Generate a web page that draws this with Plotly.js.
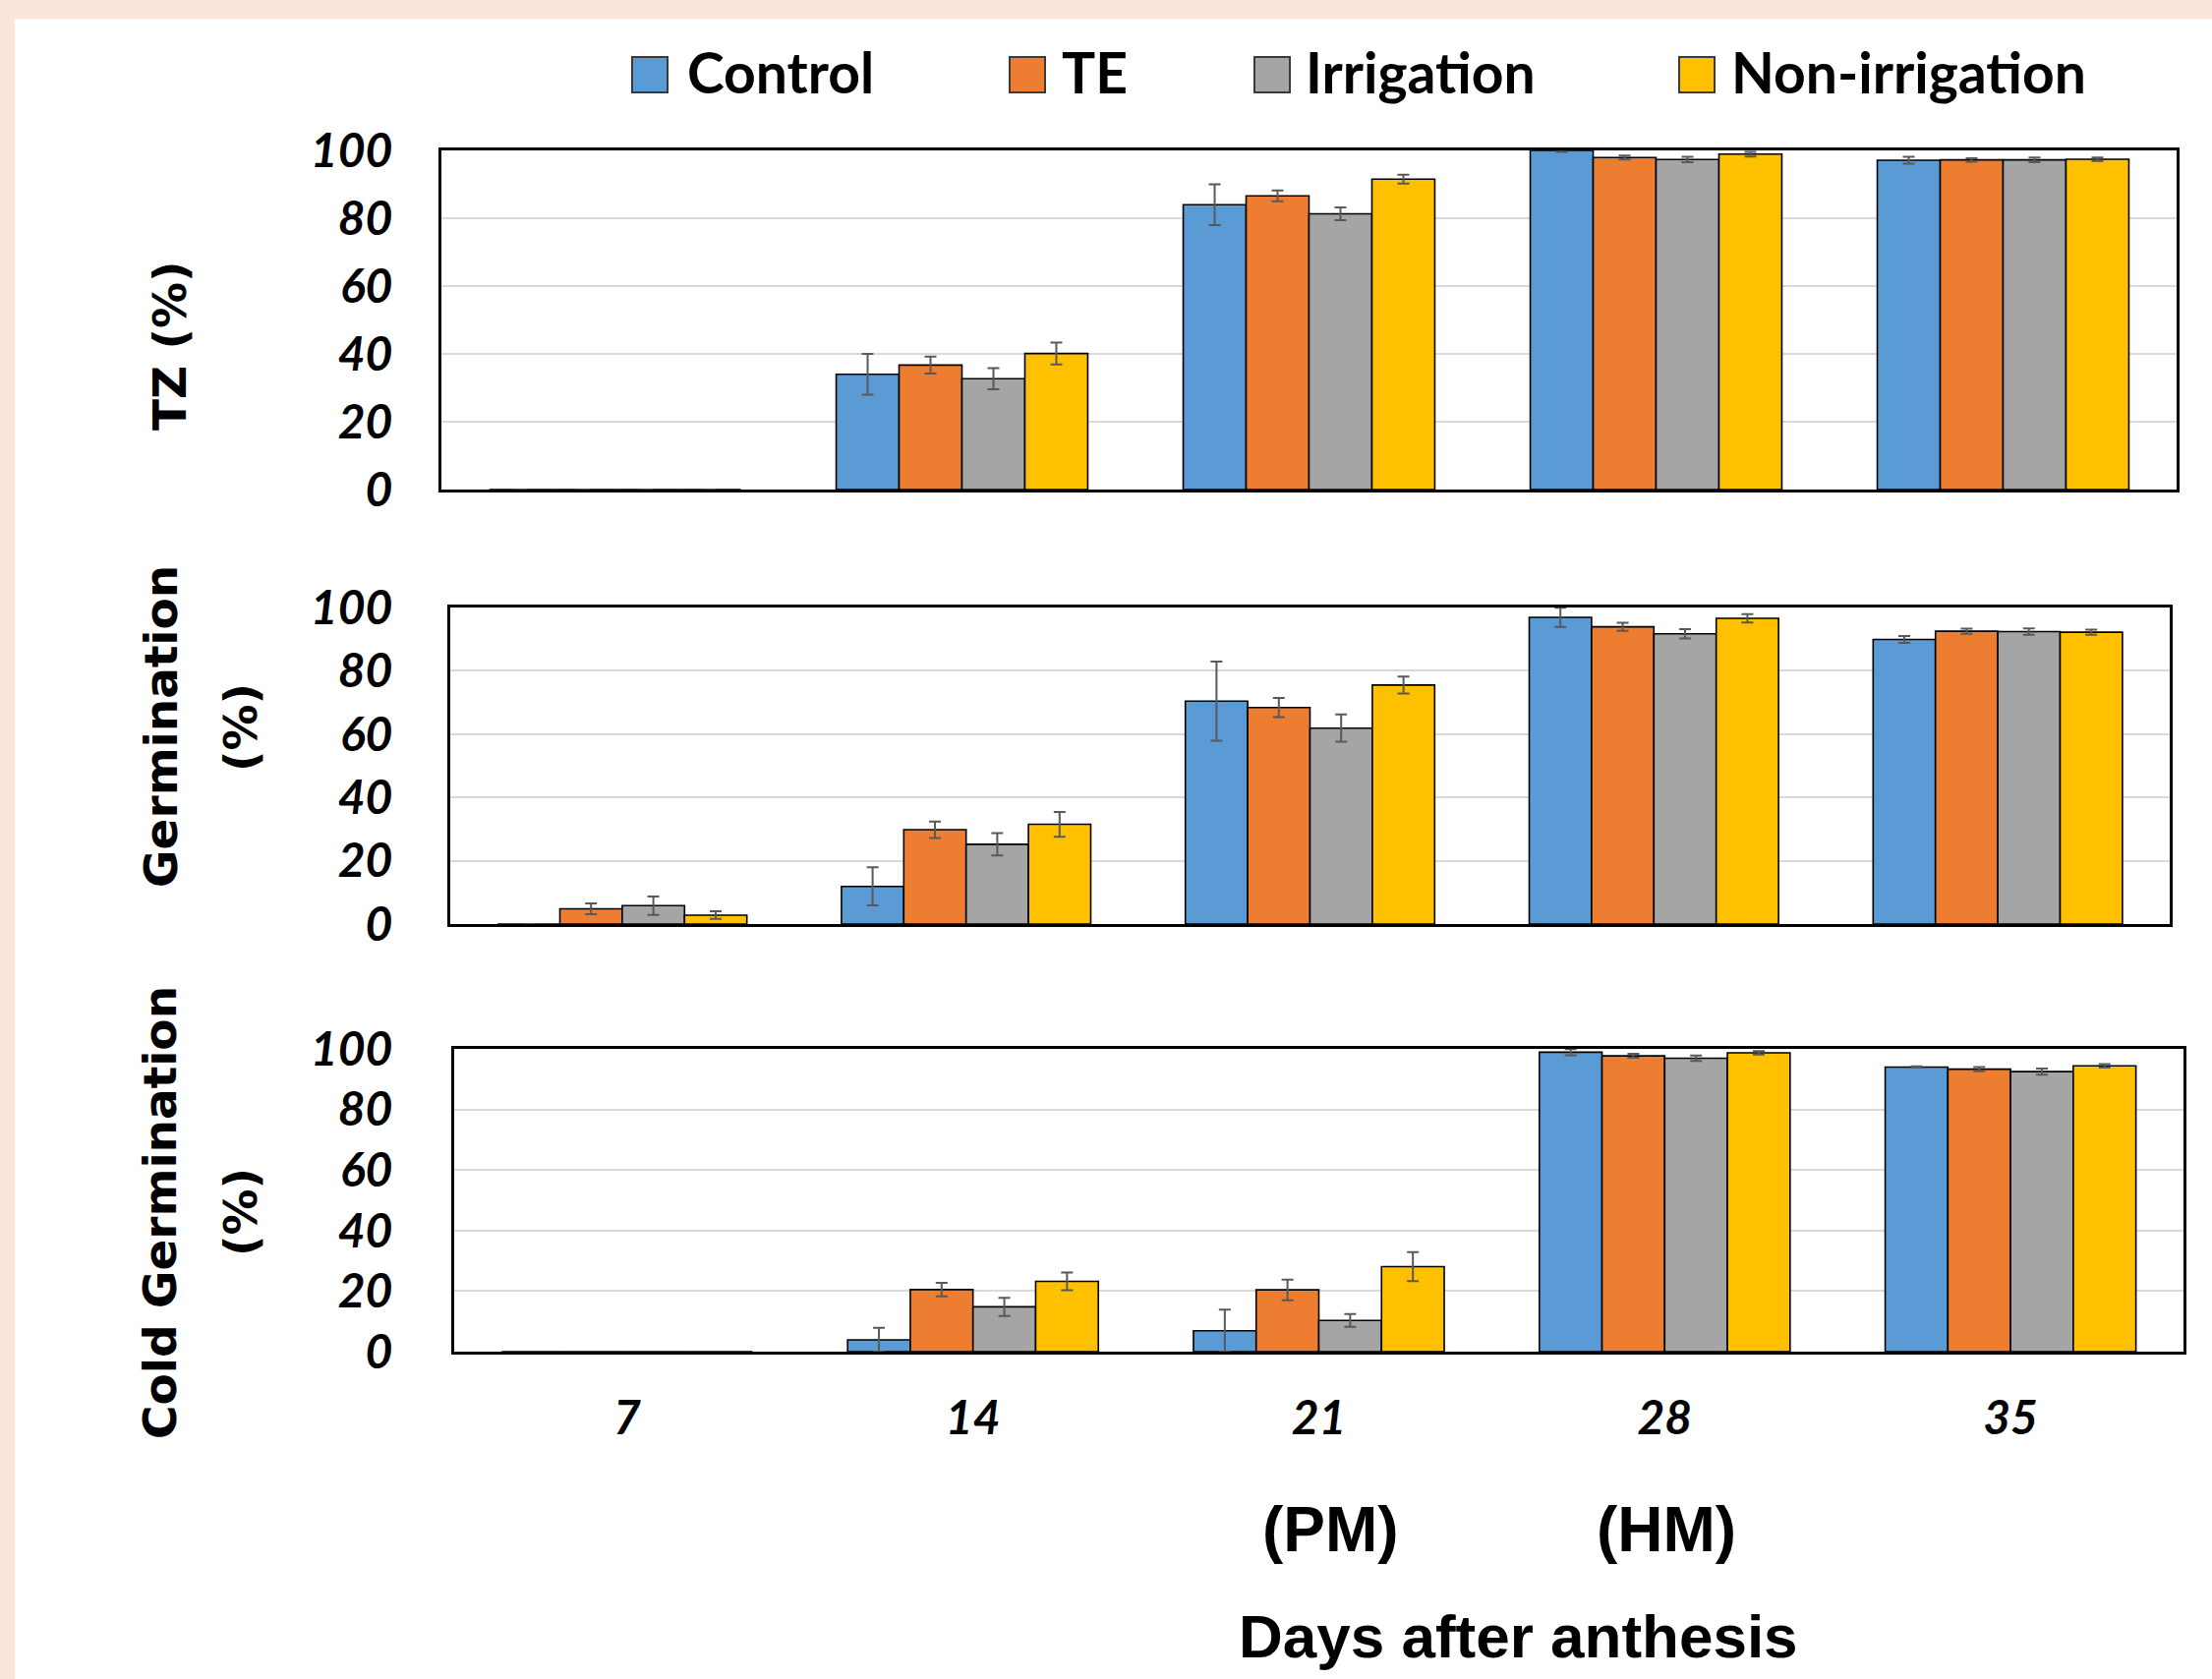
<!DOCTYPE html>
<html>
<head>
<meta charset="utf-8">
<script src="https://cdn.plot.ly/plotly-3.0.1.min.js"></script>
<style>
  html, body { margin: 0; padding: 0; background: #ffffff; }
  #chart { width: 2250px; height: 1708px; }
</style>
</head>
<body>
<div id="chart"></div>
<script>
// ---------------- DATA ----------------
const days = ['7', '14', '21', '28', '35'];
const seriesNames = ['Control', 'TE', 'Irrigation', 'Non-irrigation'];
const seriesColors = ['#5B9BD5', '#ED7D31', '#A5A5A5', '#FFC000'];

// TZ (%)
const tzControl = [0, 34.0, 84.0, 100.0, 97.1];
const tzTE = [0, 36.7, 86.6, 97.9, 97.2];
const tzIrrigation = [0, 32.7, 81.3, 97.3, 97.2];
const tzNonIrrigation = [0, 40.1, 91.5, 98.9, 97.4];
const tzControlErr = [0, 6.0, 6.0, 0.4, 1.0];
const tzTEErr = [0, 2.5, 1.6, 0.6, 0.5];
const tzIrrigationErr = [0, 3.1, 1.9, 0.8, 0.7];
const tzNonIrrigationErr = [0, 3.2, 1.3, 0.7, 0.5];

// Germination (%)
const germControl = [0, 11.9, 70.4, 96.9, 89.9];
const germTE = [4.8, 29.8, 68.4, 93.9, 92.5];
const germIrrigation = [5.8, 25.2, 61.9, 91.7, 92.4];
const germNonIrrigation = [2.8, 31.5, 75.5, 96.6, 92.2];
const germControlErr = [0, 6.0, 12.5, 3.0, 1.1];
const germTEErr = [1.7, 2.6, 3.0, 1.25, 0.8];
const germIrrigationErr = [2.9, 3.5, 4.3, 1.45, 1.0];
const germNonIrrigationErr = [1.2, 3.9, 2.7, 1.3, 0.8];

// Cold Germination (%)
const coldControl = [0, 3.9, 6.9, 98.9, 94.0];
const coldTE = [0, 20.5, 20.4, 97.7, 93.3];
const coldIrrigation = [0, 14.8, 10.3, 96.9, 92.5];
const coldNonIrrigation = [0, 23.2, 28.1, 98.7, 94.4];
const coldControlErr = [NaN, 4.0, 7.0, 1.0, 0.2];
const coldTEErr = [NaN, 2.2, 3.4, 0.65, 0.7];
const coldIrrigationErr = [NaN, 3.0, 2.1, 0.9, 1.0];
const coldNonIrrigationErr = [NaN, 2.9, 4.8, 0.55, 0.6];

const yTickVals = [0, 20, 40, 60, 80, 100];
const yTickText = ['0', '20', '40', '60', '80', '100'];

// ---------------- LAYOUT HELPERS ----------------
const W = 2250, H = 1708;
const px = v => v / W;
const py = v => 1 - v / H;

const panels = [
  { vals: [tzControl, tzTE, tzIrrigation, tzNonIrrigation],
    errs: [tzControlErr, tzTEErr, tzIrrigationErr, tzNonIrrigationErr],
    x: [449, 2214], y: [153, 498], xa: 'x', ya: 'y', standoff: 37 },
  { vals: [germControl, germTE, germIrrigation, germNonIrrigation],
    errs: [germControlErr, germTEErr, germIrrigationErr, germNonIrrigationErr],
    x: [458, 2207], y: [618, 940], xa: 'x2', ya: 'y2', standoff: 46 },
  { vals: [coldControl, coldTE, coldIrrigation, coldNonIrrigation],
    errs: [coldControlErr, coldTEErr, coldIrrigationErr, coldNonIrrigationErr],
    x: [462, 2221], y: [1067, 1375], xa: 'x3', ya: 'y3', standoff: 50 }
];

const traces = [];
panels.forEach((p, pi) => {
  seriesNames.forEach((name, si) => {
    traces.push({
      type: 'bar',
      name: name,
      x: days,
      y: p.vals[si],
      xaxis: p.xa,
      yaxis: p.ya,
      showlegend: false,
      marker: { color: seriesColors[si], line: { color: '#000000', width: 1.6 } },
      error_y: { type: 'data', array: p.errs[si], visible: true,
                 color: '#595959', thickness: 2, width: 6 },
      hoverinfo: 'skip'
    });
  });
});

const tickFont = { family: 'Lato, "DejaVu Sans", sans-serif', size: 48, color: '#000000',
                   weight: 'bold', style: 'italic' };

const layout = {
  width: W, height: H,
  margin: { l: 0, r: 0, t: 0, b: 0, pad: 0 },
  paper_bgcolor: '#FAE5D8',
  plot_bgcolor: '#FFFFFF',
  barmode: 'group',
  bargap: 0.275,
  bargroupgap: 0,
  showlegend: false,
  shapes: [],
  annotations: []
};

panels.forEach((p, pi) => {
  const n = pi === 0 ? '' : String(pi + 1);
  layout['xaxis' + n] = {
    domain: [px(p.x[0]), px(p.x[1])],
    anchor: 'y' + n,
    type: 'category',
    showticklabels: pi === 2,
    tickfont: tickFont,
    ticks: '',
    ticklabelstandoff: 23,
    showline: true, linecolor: '#000000', linewidth: 3, mirror: true,
    showgrid: false, zeroline: false,
    fixedrange: true
  };
  layout['yaxis' + n] = {
    domain: [py(p.y[1]), py(p.y[0])],
    anchor: 'x' + n,
    range: [0, 100],
    tickmode: 'array', tickvals: yTickVals, ticktext: yTickText,
    tickfont: tickFont,
    ticks: '',
    ticklabelstandoff: p.standoff,
    showline: true, linecolor: '#000000', linewidth: 3, mirror: true,
    showgrid: true, gridcolor: '#D9D9D9', gridwidth: 2,
    zeroline: false,
    fixedrange: true
  };
});

// white page area inside the peach frame
layout.shapes.push({
  type: 'rect', xref: 'paper', yref: 'paper', layer: 'below',
  x0: px(15), x1: 1, y0: 0, y1: py(19),
  fillcolor: '#FFFFFF', line: { width: 0 }
});

// legend (manual, larger swatches)
const legendSwatchX = [643, 1027, 1276, 1708];
const legendTextX = [697, 1078, 1326, 1759];
seriesNames.forEach((name, si) => {
  layout.shapes.push({
    type: 'rect', xref: 'paper', yref: 'paper', layer: 'above',
    x0: px(legendSwatchX[si]), x1: px(legendSwatchX[si] + 36),
    y0: py(94), y1: py(58),
    fillcolor: seriesColors[si], line: { color: '#3A3A3A', width: 2 }
  });
  layout.annotations.push({
    xref: 'paper', yref: 'paper', x: px(legendTextX[si]), y: py(73),
    xanchor: 'left', yanchor: 'middle', showarrow: false,
    text: name,
    font: { family: 'Lato, "DejaVu Sans", sans-serif', size: 57, color: '#000000', weight: 'bold' }
  });
});

const titleFont = { family: '"DejaVu Sans", Verdana, sans-serif', size: 47, color: '#000000', weight: 'bold' };
const yTitles = [
  { text: 'TZ (%)', x: 172, y: 352 },
  { text: 'Germination', x: 163, y: 739 },
  { text: '(%)', x: 244, y: 740 },
  { text: 'Cold Germination', x: 162, y: 1234 },
  { text: '(%)', x: 244, y: 1233 }
];
yTitles.forEach(t => {
  layout.annotations.push({
    xref: 'paper', yref: 'paper', x: px(t.x), y: py(t.y),
    xanchor: 'center', yanchor: 'middle', showarrow: false,
    textangle: -90, text: t.text, font: titleFont
  });
});

const arialBold = { family: '"Liberation Sans", Arial, sans-serif', size: 64, color: '#000000', weight: 'bold' };
[
  { text: '(PM)', x: 1353, y: 1556, size: 64 },
  { text: '(HM)', x: 1695, y: 1556, size: 64 },
  { text: 'Days after anthesis', x: 1544, y: 1664, size: 62 }
].forEach(t => {
  layout.annotations.push({
    xref: 'paper', yref: 'paper', x: px(t.x), y: py(t.y),
    xanchor: 'center', yanchor: 'middle', showarrow: false,
    text: t.text, font: Object.assign({}, arialBold, { size: t.size })
  });
});

Plotly.newPlot('chart', traces, layout, { displayModeBar: false, responsive: false });
</script>
</body>
</html>
